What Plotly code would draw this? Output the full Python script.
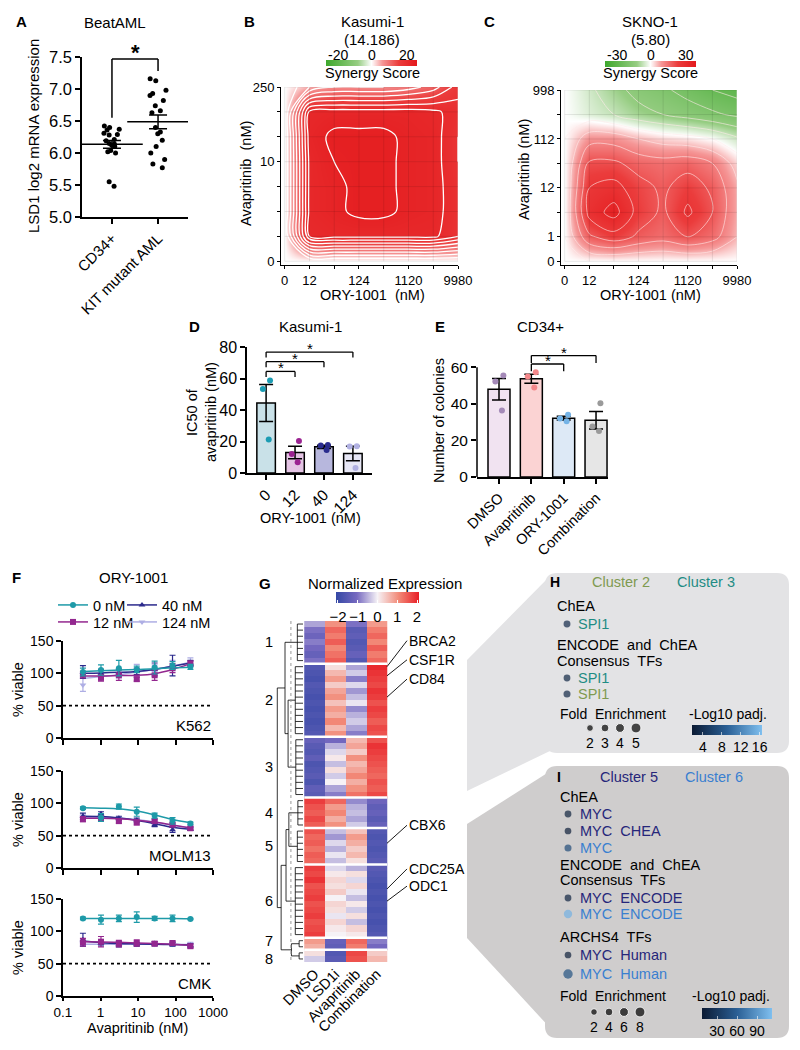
import numpy as np
import plotly.graph_objects as go

W, H = 800, 1050
FONT = 'Liberation Sans, Arial, sans-serif'

# ---------------- data ----------------
# A: BeatAML LSD1 expression
a_groups = ['CD34+', 'KIT mutant AML']
a_cd34 = [6.42, 6.40, 6.37, 6.36, 6.31, 6.29, 6.28, 6.21, 6.19, 6.15, 6.14, 6.12,
          6.10, 6.04, 6.02, 6.00, 5.55, 5.48]
a_kit = [7.16, 7.13, 6.98, 6.93, 6.90, 6.82, 6.74, 6.66, 6.63, 6.40, 6.33, 6.30,
         6.20, 6.10, 6.00, 5.90, 5.83, 5.77]

# B / C: synergy maps (rows = avapritinib dose low -> high, cols = ORY-1001 dose)
ory_labels = ['0', '12', '', '124', '', '1120', '', '9980']
b_avap_labels = ['0', '', '', '', '10', '', '', '250']
c_avap_labels = ['0', '1', '', '12', '', '112', '', '998']
b_synergy = [
    [0, 0, 0, 0, 0, 0, 0, 0],
    [0, 16, 16.5, 16.5, 16.5, 16.5, 16.5, 14],
    [0, 16.5, 17.5, 18.5, 18.5, 17.5, 17, 14.5],
    [0, 16.5, 17.5, 18.5, 18.5, 17.5, 17, 14.5],
    [0, 16.5, 18, 18.5, 18.5, 17.5, 17, 14],
    [0, 17, 18.5, 18.5, 18.5, 17.5, 17, 14],
    [0, 16.5, 17, 17, 17, 17, 16.5, 15],
    [0, 4, 6, 6, 6, 7, 9, 13],
]
c_synergy = [
    [0, 0, 0, 0, 0, 0, 0, 0],
    [0, 14, 18, 14, 12, 15, 12, 5],
    [0, 22, 27, 18, 14, 21, 15, 6],
    [0, 20, 22, 17, 14, 18, 14, 6],
    [0, 16, 16, 13, 12, 13, 10, 3],
    [0, 8, 8, 5, 3, 2, 0, -4],
    [0, -3, -5, -8, -10, -12, -14, -16],
    [0, -4, -8, -12, -14, -17, -20, -22],
]

# D: IC50 of avapritinib in Kasumi-1
d_doses = ['0', '12', '40', '124']
d_0nM = [58.8, 53.3, 21.2]
d_12nM = [20.3, 12.0, 6.8]
d_40nM = [17.8, 17.4, 14.6]
d_124nM = [17.0, 16.9, 3.2]

# E: CD34+ colonies
e_groups = ['DMSO', 'Avapritinib', 'ORY-1001', 'Combination']
e_dmso = [55.5, 52.2, 36.4]
e_avap = [57.3, 55.0, 49.0]
e_ory = [34.0, 32.0, 30.5]
e_combo = [40.4, 27.6, 25.1]

# F: viability curves
f_conc = [0.34, 1.03, 3.09, 9.26, 27.8, 83.3, 250]
f_series = ['0 nM', '12 nM', '40 nM', '124 nM']
k562_0 = [102, 105, 108, 106, 109, 112, 110]
k562_0_sem = [6, 8, 12, 5, 10, 6, 4]
k562_0_fit = [103, 104, 105, 106, 107, 108.5, 109.5]
k562_12 = [98, 93, 97, 91, 97, 108, 115]
k562_12_sem = [5, 5, 8, 3, 8, 7, 4]
k562_12_fit = [96, 96, 96.5, 97, 99.5, 106, 115]
k562_40 = [102, 100, 101, 103, 106, 112, 116]
k562_40_sem = [10, 6, 5, 5, 10, 16, 4]
k562_40_fit = [100, 100.5, 101.5, 103, 106, 111, 116]
k562_124 = [82, 95, 97, 104, 108, 112, 118]
k562_124_sem = [10, 5, 4, 10, 5, 8, 6]
k562_124_fit = [92, 95, 98, 102, 106, 111, 117]

molm13_0 = [92.5, 78, 95, 87, 81, 73, 69]
molm13_0_sem = [2, 6, 4, 7, 4, 5, 2]
molm13_0_fit = [93, 92.5, 91.5, 88, 82, 75, 70]
molm13_12 = [75.5, 77, 72.5, 70.5, 72.5, 67, 61.5]
molm13_12_sem = [4, 3, 3, 4, 3, 3, 2]
molm13_12_fit = [77, 77, 76, 74, 71, 66.5, 62]
molm13_40 = [80, 84, 77, 74, 67, 59, 60]
molm13_40_sem = [5, 3, 3, 3, 3, 4, 2]
molm13_40_fit = [80, 79.5, 77.5, 74, 68.5, 63, 60]
molm13_124 = [79, 79, 76, 72, 71, 66, 62]
molm13_124_sem = [3, 3, 3, 3, 3, 3, 2]
molm13_124_fit = [78, 78, 77, 75, 71, 66, 62]

cmk_0 = [120, 118, 120, 122, 120, 120, 119]
cmk_0_sem = [2, 7, 5, 8, 3, 5, 1]
cmk_0_fit = [120, 120, 120, 120, 120, 120, 119.5]
cmk_12 = [83, 84, 81, 82, 81, 82, 77]
cmk_12_sem = [6, 8, 5, 5, 3, 3, 3]
cmk_12_fit = [84, 83.5, 83, 82, 81, 80, 78]
cmk_40 = [87, 82, 80, 80, 81, 80, 78]
cmk_40_sem = [10, 3, 4, 3, 3, 3, 3]
cmk_40_fit = [85, 82.5, 81, 80.5, 80, 79.5, 79]
cmk_124 = [80, 80, 80, 80, 80, 80, 80]
cmk_124_sem = [3, 3, 3, 3, 3, 3, 3]
cmk_124_fit = [80, 80, 80, 80, 80, 80, 79.5]

# G: normalized expression heatmap (DMSO, LSD1i, Avapritinib, Combination)
g_conditions = ['DMSO', 'LSD1i', 'Avapritinib', 'Combination']
g_cluster_sizes = [7, 12, 10, 5, 6, 12, 2, 2]
g_expr = [
    # cluster 1
    [-0.6, 1.0, -1.0, 0.9], [-1.0, 1.4, -1.5, 1.2], [-1.2, 1.2, -1.4, 1.4],
    [-0.9, 1.5, -1.6, 1.1], [-1.1, 1.1, -1.5, 1.5], [-1.3, 1.3, -1.3, 1.2],
    [-1.0, 1.5, -1.6, 1.4],
    # cluster 2
    [-1.6, 0.2, -0.6, 2.0], [-1.7, 0.6, -0.3, 1.9], [-1.8, 0.9, -0.9, 1.8],
    [-1.6, 0.4, -0.2, 1.7], [-1.7, 0.8, -0.7, 1.9], [-1.8, 1.0, -0.4, 1.8],
    [-1.7, 0.5, -0.1, 1.6], [-1.8, 0.9, -0.8, 1.8], [-1.7, 0.7, -0.5, 1.7],
    [-1.8, 1.1, -0.3, 1.5], [-1.7, 0.6, -0.6, 1.7], [-1.6, 1.0, -0.9, 1.6],
    # cluster 3
    [-1.3, -1.1, 0.6, 1.6], [-1.5, -0.5, 0.8, 1.9], [-1.6, -0.2, 0.4, 1.8],
    [-1.4, 0.1, 1.0, 1.7], [-1.7, -0.4, 0.6, 1.6], [-1.6, 0.2, 0.8, 1.5],
    [-1.5, -0.3, 1.1, 1.4], [-1.7, 0.0, 0.7, 1.6], [-1.4, -0.6, 1.0, 1.5],
    [-1.5, -0.9, 1.3, 1.7],
    # cluster 4
    [1.8, 1.4, -0.8, -1.2], [1.6, 0.9, -0.5, -1.4], [1.5, 1.1, -0.4, -1.3],
    [1.7, 0.7, -0.6, -1.5], [1.5, 1.0, -0.3, -1.3],
    # cluster 5
    [1.6, -0.4, 0.5, -1.6], [1.4, -0.7, 0.9, -1.7], [1.5, -0.2, 0.7, -1.6],
    [1.3, -0.5, 0.4, -1.7], [1.5, -0.1, 0.6, -1.6], [1.4, -0.4, 0.2, -1.5],
    # cluster 6
    [1.8, -0.2, -0.5, -1.5], [1.7, 0.1, 0.2, -1.6], [1.9, 0.3, -0.2, -1.7],
    [1.6, 0.2, 0.3, -1.8], [1.7, 0.4, -0.1, -1.7], [1.8, 0.0, -0.4, -1.8],
    [1.6, 0.3, 0.1, -1.7], [1.7, 0.2, -0.3, -1.8], [1.8, -0.1, 0.2, -1.7],
    [1.6, 0.3, -0.4, -1.8], [1.7, 0.1, 0.3, -1.7], [1.8, 0.0, 0.1, -1.6],
    # cluster 7
    [0.9, -1.3, 1.4, -0.9], [0.7, -1.4, 1.2, -1.1],
    # cluster 8
    [0.2, -1.6, 1.7, 0.4], [-0.3, -1.5, 1.6, 0.6],
]
g_leaf_height = [0.22, 0.3, 0.28, 0.2, 0.22, 0.3, 0.15, 0.15]
g_merges = [(1, 2, 0.58), (0, 8, 0.70), (3, 4, 0.55), (10, 5, 0.66),
            (6, 7, 0.45), (11, 12, 0.85), (9, 13, 1.0)]
g_cut_height = 0.47
g_genes = ['BRCA2', 'CSF1R', 'CD84', 'CBX6', 'CDC25A', 'ODC1']
g_gene_rows = [7, 8.5, 12, 36, 43.5, 45.5]

# H / I: TF enrichment
h_terms = ['SPI1', 'SPI1', 'SPI1']
h_clusters = ['Cluster 3', 'Cluster 3', 'Cluster 2']
h_fold = [2.1, 2.0, 2.2]
h_log10padj = [3.4, 3.0, 3.2]
h_fold_legend = [2, 3, 4, 5]
i_terms = ['MYC', 'MYC CHEA', 'MYC', 'MYC ENCODE', 'MYC ENCODE', 'MYC Human', 'MYC Human']
i_clusters = ['Cluster 5', 'Cluster 5', 'Cluster 6', 'Cluster 5', 'Cluster 6', 'Cluster 5', 'Cluster 6']
i_fold = [2.2, 2.0, 2.6, 2.1, 5.0, 2.0, 7.0]
i_log10padj = [14, 12, 45, 15, 105, 12, 50]
i_fold_legend = [2, 4, 6, 8]

# ---------------- helpers ----------------
def xd(a, b):
    return [a / W, b / W]

def yd(top, bottom):
    return [1 - bottom / H, 1 - top / H]

def px(x):
    return x / W

def py(y):
    return 1 - y / H

def sem(v):
    return float(np.std(v, ddof=1) / np.sqrt(len(v)))

def tf(size):
    return dict(size=size, color='black', family=FONT)

def ax(**kw):
    base = dict(showline=True, linecolor='black', linewidth=1.5, ticks='outside', ticklen=5,
                tickwidth=1.5, tickcolor='black', showgrid=False, zeroline=False, automargin=False,
                tickfont=tf(14))
    base.update(kw)
    return base

def txt(x, y, s, size=14, color='black', bold=False, anchor='center', angle=0):
    return dict(x=px(x), y=py(y), xref='paper', yref='paper', showarrow=False,
                text=f'<b>{s}</b>' if bold else s, textangle=angle,
                font=dict(size=size, color=color, family=FONT),
                xanchor=anchor, yanchor='middle')

def P(x, y):
    return f'{x / W:.5f},{1 - y / H:.5f}'

def rounded(x0, y0, x1, y1, r):
    return (f'M{P(x0 + r, y0)} L{P(x1 - r, y0)} Q{P(x1, y0)} {P(x1, y0 + r)} '
            f'L{P(x1, y1 - r)} Q{P(x1, y1)} {P(x1 - r, y1)} L{P(x0 + r, y1)} '
            f'Q{P(x0, y1)} {P(x0, y1 - r)} L{P(x0, y0 + r)} Q{P(x0, y0)} {P(x0 + r, y0)} Z')

off = dict(showlegend=False, hoverinfo='skip')
fig = go.Figure()
ann = []
shapes = []

# ---------------- A ----------------
for grp, vals in zip(a_groups, [a_cd34, a_kit]):
    fig.add_trace(go.Box(x=[grp] * len(vals), y=vals, boxpoints='all', jitter=0.9, pointpos=0,
                         width=0.45, marker=dict(color='black', size=5),
                         line=dict(color='rgba(0,0,0,0)', width=0), fillcolor='rgba(0,0,0,0)',
                         xaxis='x', yaxis='y', **off))
a_sets = [a_cd34, a_kit]
fig.add_trace(go.Scatter(x=a_groups, y=[np.mean(v) for v in a_sets], mode='markers',
                         marker=dict(symbol='line-ew', size=44, line=dict(width=1.5, color='black')),
                         error_y=dict(type='data', array=[sem(v) for v in a_sets], color='black',
                                      thickness=1.5, width=9),
                         xaxis='x', yaxis='y', **off))
for (x0, y0, x1, y1) in [(0, 6.55, 0, 7.47), (0, 7.47, 1, 7.47), (1, 7.47, 1, 7.28)]:
    shapes.append(dict(type='line', xref='x', yref='y', x0=x0, y0=y0, x1=x1, y1=y1,
                       line=dict(color='black', width=1.5)))
ann.append(dict(x=0.5, y=7.47, xref='x', yref='y', text='<b>*</b>', showarrow=False,
                font=dict(size=22, family=FONT), yanchor='bottom', yshift=-8))

# ---------------- B / C ----------------
syn_scale = [[0, 'rgb(62,168,45)'], [0.35, 'rgb(150,205,130)'], [0.5, 'rgb(255,255,255)'],
             [0.62, 'rgb(245,150,150)'], [0.8, 'rgb(235,60,60)'], [1, 'rgb(228,25,28)']]
idx8 = list(range(8))
fig.add_trace(go.Contour(z=b_synergy, x=idx8, y=idx8, coloraxis='coloraxis',
                         contours=dict(coloring='heatmap', start=2, end=18, size=2),
                         line=dict(color='white', width=1.3, smoothing=1.0),
                         xaxis='x2', yaxis='y2', **off))
fig.add_trace(go.Contour(z=c_synergy, x=idx8, y=idx8, coloraxis='coloraxis2',
                         contours=dict(coloring='heatmap', start=-20, end=25, size=5),
                         line=dict(color='rgba(255,235,235,0.75)', width=0.8, smoothing=1.0),
                         xaxis='x3', yaxis='y3', **off))
for xa, ya in [('x2', 'y2'), ('x3', 'y3')]:
    for i in idx8:
        shapes.append(dict(type='line', xref=xa, yref=ya, x0=i, x1=i, y0=0, y1=7, layer='above',
                           line=dict(color='rgba(0,0,0,0.09)', width=1)))
        shapes.append(dict(type='line', xref=xa, yref=ya, x0=0, x1=7, y0=i, y1=i, layer='above',
                           line=dict(color='rgba(0,0,0,0.09)', width=1)))

# ---------------- D ----------------
d_sets = [d_0nM, d_12nM, d_40nM, d_124nM]
d_fill = ['#c9e1e8', '#e4c4e4', '#b7b7dd', '#e7e7f6']
d_dot = ['#1b9cb3', '#9b2391', '#2a2c8e', '#b1b1e2']
fig.add_trace(go.Bar(x=d_doses, y=[np.mean(v) for v in d_sets], width=0.64,
                     marker=dict(color=d_fill, line=dict(color='black', width=1.5)),
                     error_y=dict(type='data', array=[sem(v) for v in d_sets], color='black',
                                  thickness=1.5, width=7),
                     xaxis='x4', yaxis='y4', **off))
for dose, vals, col in zip(d_doses, d_sets, d_dot):
    fig.add_trace(go.Box(x=[dose] * len(vals), y=vals, boxpoints='all', jitter=0.7, pointpos=0,
                         width=0.5, marker=dict(color=col, size=6),
                         line=dict(color='rgba(0,0,0,0)', width=0), fillcolor='rgba(0,0,0,0)',
                         xaxis='x4', yaxis='y4', **off))
for (i0, i1, yb) in [(0, 1, 64.5), (0, 2, 70.7), (0, 3, 76.8)]:
    for (x0, y0, x1, y1) in [(i0, yb - 3.5, i0, yb), (i0, yb, i1, yb), (i1, yb, i1, yb - 3.5)]:
        shapes.append(dict(type='line', xref='x4', yref='y4', x0=x0, y0=y0, x1=x1, y1=y1,
                           line=dict(color='black', width=1.3)))
    ann.append(dict(x=(i0 + i1) / 2, y=yb, xref='x4', yref='y4', text='*', showarrow=False,
                    font=dict(size=15, family=FONT), yanchor='bottom', yshift=-7))

# ---------------- E ----------------
e_sets = [e_dmso, e_avap, e_ory, e_combo]
e_fill = ['#f1e3f1', '#fbd3d3', '#dde9f6', '#e6e6e6']
e_dot = ['#a48ab8', '#f3878a', '#74b3e6', '#9a9a9a']
fig.add_trace(go.Bar(x=e_groups, y=[np.mean(v) for v in e_sets], width=0.68,
                     marker=dict(color=e_fill, line=dict(color='black', width=1.5)),
                     error_y=dict(type='data', array=[sem(v) for v in e_sets], color='black',
                                  thickness=1.5, width=7),
                     xaxis='x5', yaxis='y5', **off))
for grp, vals, col in zip(e_groups, e_sets, e_dot):
    fig.add_trace(go.Box(x=[grp] * len(vals), y=vals, boxpoints='all', jitter=0.7, pointpos=0,
                         width=0.5, marker=dict(color=col, size=6),
                         line=dict(color='rgba(0,0,0,0)', width=0), fillcolor='rgba(0,0,0,0)',
                         xaxis='x5', yaxis='y5', **off))
shapes.append(dict(type='line', xref='x5 domain', yref='y5', x0=0, x1=0, y0=0, y1=60,
                   line=dict(color='black', width=1.5)))
for (i0, i1, yb) in [(1, 2, 61.8), (1, 3, 66.4)]:
    for (x0, y0, x1, y1) in [(i0, yb - 4, i0, yb), (i0, yb, i1, yb), (i1, yb, i1, yb - 4)]:
        shapes.append(dict(type='line', xref='x5', yref='y5', x0=x0, y0=y0, x1=x1, y1=y1,
                           line=dict(color='black', width=1.3)))
    ann.append(dict(x=(i0 + i1) / 2, y=yb, xref='x5', yref='y5', text='*', showarrow=False,
                    font=dict(size=15, family=FONT), yanchor='bottom', yshift=-7))

# ---------------- F ----------------
f_colors = ['#1e9aa8', '#93278f', '#2b2a8c', '#aeaee4']
f_symbols = ['circle', 'square', 'triangle-up', 'triangle-down']
f_panels = [
    ('x6', 'y6', 'K562', [k562_0, k562_12, k562_40, k562_124],
     [k562_0_sem, k562_12_sem, k562_40_sem, k562_124_sem],
     [k562_0_fit, k562_12_fit, k562_40_fit, k562_124_fit]),
    ('x7', 'y7', 'MOLM13', [molm13_0, molm13_12, molm13_40, molm13_124],
     [molm13_0_sem, molm13_12_sem, molm13_40_sem, molm13_124_sem],
     [molm13_0_fit, molm13_12_fit, molm13_40_fit, molm13_124_fit]),
    ('x8', 'y8', 'CMK', [cmk_0, cmk_12, cmk_40, cmk_124],
     [cmk_0_sem, cmk_12_sem, cmk_40_sem, cmk_124_sem],
     [cmk_0_fit, cmk_12_fit, cmk_40_fit, cmk_124_fit]),
]
for xa, ya, name, pts, errs, fits in f_panels:
    for k in [3, 2, 1, 0]:
        fig.add_trace(go.Scatter(x=f_conc, y=fits[k], mode='lines',
                                 line=dict(color=f_colors[k], width=1.5, shape='spline'),
                                 xaxis=xa, yaxis=ya, **off))
        fig.add_trace(go.Scatter(x=f_conc, y=pts[k], mode='markers',
                                 marker=dict(symbol=f_symbols[k], size=6, color=f_colors[k]),
                                 error_y=dict(type='data', array=errs[k], color=f_colors[k],
                                              thickness=1.2, width=3),
                                 xaxis=xa, yaxis=ya, **off))
    shapes.append(dict(type='line', xref=f'{xa} domain', yref=ya, x0=0, x1=1, y0=50, y1=50,
                       line=dict(color='black', width=1.6, dash='dot')))
    ann.append(dict(x=1, y=0.13, xref=f'{xa} domain', yref=f'{ya} domain', text=name,
                    showarrow=False, xanchor='right', yanchor='middle',
                    font=dict(size=15, family=FONT)))
# one legend per entry, laid out 2 x 2 like the original key
f_legend_ids = ['legend', 'legend3', 'legend2', 'legend4']
for k in range(4):
    fig.add_trace(go.Scatter(x=[None], y=[None], mode='lines+markers', name=f_series[k],
                             marker=dict(symbol=f_symbols[k], size=6, color=f_colors[k]),
                             line=dict(color=f_colors[k], width=1.5),
                             legend=f_legend_ids[k], xaxis='x6', yaxis='y6', showlegend=True))

# ---------------- G ----------------
n_rows = len(g_expr)
fig.add_trace(go.Heatmap(z=g_expr, x=g_conditions, y=list(range(n_rows)), coloraxis='coloraxis3',
                         xaxis='x9', yaxis='y9', **off))
starts = np.cumsum([0] + g_cluster_sizes[:-1])
bounds = np.cumsum(g_cluster_sizes)[:-1]
for b in bounds:
    shapes.append(dict(type='line', xref='x9', yref='y9', x0=-0.5, x1=3.5, y0=b - 0.5, y1=b - 0.5,
                       line=dict(color='white', width=2.5), layer='above'))

dx, dy = [], []
node_y, node_h = {}, {}
for k, (s, n) in enumerate(zip(starts, g_cluster_sizes)):
    rows = list(range(int(s), int(s + n)))
    h = g_leaf_height[k]
    for r in rows:
        dx += [0, h, None]
        dy += [r, r, None]
    dx += [h, h, None]
    dy += [rows[0], rows[-1], None]
    node_y[k] = float(np.mean(rows))
    node_h[k] = h
for j, (a, b, h) in enumerate(g_merges):
    nid = len(g_cluster_sizes) + j
    dx += [node_h[a], h, h, node_h[b], None]
    dy += [node_y[a], node_y[a], node_y[b], node_y[b], None]
    node_y[nid] = (node_y[a] + node_y[b]) / 2
    node_h[nid] = h
fig.add_trace(go.Scatter(x=dx, y=dy, mode='lines', line=dict(color='black', width=0.8),
                         xaxis='x10', yaxis='y10', **off))
fig.add_trace(go.Scatter(x=[g_cut_height, g_cut_height], y=[-0.5, n_rows - 0.5], mode='lines',
                         line=dict(color='#999999', width=1, dash='dot'),
                         xaxis='x10', yaxis='y10', **off))
label_shift = [0, 0, 0, 0, 0, 0, 3, -3]
for k, (s, n) in enumerate(zip(starts, g_cluster_sizes)):
    ann.append(dict(x=px(263), y=s + (n - 1) / 2, xref='paper', yref='y9', text=str(k + 1),
                    showarrow=False, yshift=label_shift[k], font=dict(size=14.5, family=FONT)))
gene_dy = [-26, -16, -18, -18, -20, -15]
for gene, row, ddy in zip(g_genes, g_gene_rows, gene_dy):
    ann.append(dict(x=3.5, y=row, xref='x9', yref='y9', text=gene, showarrow=True, arrowhead=0,
                    arrowwidth=0.9, arrowcolor='black', ax=20, ay=ddy, xanchor='left',
                    yanchor='middle', standoff=0, font=dict(size=14, family=FONT)))

# ---------------- H / I ----------------
shapes.append(dict(type='path', xref='paper', yref='paper', layer='below', line=dict(width=0),
                   fillcolor='#e3e3e5', path=f'M{P(467, 660)} L{P(552, 574)} L{P(552, 750)} L{P(467, 791)} Z'))
shapes.append(dict(type='path', xref='paper', yref='paper', layer='below', line=dict(width=0),
                   fillcolor='#cfcdcd', path=f'M{P(467, 824)} L{P(552, 770)} L{P(552, 1030)} L{P(467, 938)} Z'))
shapes.append(dict(type='path', xref='paper', yref='paper', layer='below', line=dict(width=0),
                   fillcolor='#e3e3e5', path=rounded(545, 573, 789, 753, 12)))
shapes.append(dict(type='path', xref='paper', yref='paper', layer='below', line=dict(width=0),
                   fillcolor='#cfcdcd', path=rounded(545, 766, 789, 1038, 12)))

clus_col = {'Cluster 2': '#7f9a50', 'Cluster 3': '#1f8c84',
            'Cluster 5': '#26267a', 'Cluster 6': '#3a7fd0'}
h_rows_y = [624, 678, 694]
i_rows_y = [814, 831, 848, 898, 914, 955, 974]
fig.add_trace(go.Scatter(x=[567] * len(h_terms), y=h_rows_y, mode='markers',
                         marker=dict(size=[4.7 + 1.05 * f for f in h_fold], color=h_log10padj,
                                     coloraxis='coloraxis4', line=dict(width=0)),
                         xaxis='x11', yaxis='y11', **off))
fig.add_trace(go.Scatter(x=[590, 605, 620, 636], y=[728] * 4, mode='markers',
                         marker=dict(size=[4.7 + 1.05 * f for f in h_fold_legend], color='black'),
                         xaxis='x11', yaxis='y11', **off))
fig.add_trace(go.Scatter(x=[568] * len(i_terms), y=i_rows_y, mode='markers',
                         marker=dict(size=[5.6 + 0.55 * f for f in i_fold], color=i_log10padj,
                                     coloraxis='coloraxis5', line=dict(width=0)),
                         xaxis='x11', yaxis='y11', **off))
fig.add_trace(go.Scatter(x=[594, 609, 624, 640], y=[1012] * 4, mode='markers',
                         marker=dict(size=[5.6 + 0.55 * f for f in i_fold_legend], color='black'),
                         xaxis='x11', yaxis='y11', **off))

for term, cl, y in zip(h_terms, h_clusters, h_rows_y):
    ann.append(txt(576, y, term, 14.5, clus_col[cl], anchor='left'))
for term, cl, y in zip(i_terms, i_clusters, i_rows_y):
    ann.append(txt(578, y, term.replace(' ', '\u00a0 '), 14.5, clus_col[cl], anchor='left'))
for f, x in zip(h_fold_legend, [590, 605, 620, 636]):
    ann.append(txt(x, 743, str(f), 14))
for f, x in zip(i_fold_legend, [594, 609, 624, 640]):
    ann.append(txt(x, 1027, str(f), 14))

sp = '\u00a0 '
ann += [
    txt(548, 582, 'H', 14, bold=True, anchor='left'),
    txt(590, 582, 'Cluster 2', 14.5, clus_col['Cluster 2'], anchor='left'),
    txt(675, 582, 'Cluster 3', 14.5, clus_col['Cluster 3'], anchor='left'),
    txt(555, 606, 'ChEA', 14.5, anchor='left'),
    txt(555, 645, f'ENCODE{sp}and{sp}ChEA', 14.5, anchor='left'),
    txt(555, 661, f'Consensus{sp}TFs', 14.5, anchor='left'),
    txt(558, 714, f'Fold{sp}Enrichment', 14, anchor='left'),
    txt(687, 714, '-Log10 padj.', 14, anchor='left'),
    txt(555, 777, 'I', 14, bold=True, anchor='left'),
    txt(598, 777, 'Cluster 5', 14.5, clus_col['Cluster 5'], anchor='left'),
    txt(683, 777, 'Cluster 6', 14.5, clus_col['Cluster 6'], anchor='left'),
    txt(558, 797, 'ChEA', 14.5, anchor='left'),
    txt(558, 865, f'ENCODE{sp}and{sp}ChEA', 14.5, anchor='left'),
    txt(558, 880, f'Consensus{sp}TFs', 14.5, anchor='left'),
    txt(558, 937, f'ARCHS4{sp}TFs', 14.5, anchor='left'),
    txt(558, 996, f'Fold{sp}Enrichment', 14, anchor='left'),
    txt(690, 996, '-Log10 padj.', 14, anchor='left'),
]

# ---------------- titles / labels ----------------
ann += [
    txt(14, 22, 'A', 15, bold=True, anchor='left'),
    txt(115, 23, 'BeatAML', 15),
    txt(34, 136, 'LSD1 log2 mRNA expression', 15, angle=-90),
    txt(242, 22, 'B', 15, bold=True, anchor='left'),
    txt(372, 22, 'Kasumi-1', 15),
    txt(372, 39, '(14.186)', 15),
    txt(326, 55, '-20', 14, anchor='left'),
    txt(371.5, 55, '0', 14),
    txt(417, 55, '20', 14, anchor='right'),
    txt(372, 73, 'Synergy Score', 14.5),
    txt(246, 174, f'Avapritinib{sp}(nM)', 14.5, angle=-90),
    txt(372, 295, f'ORY-1001{sp}(nM)', 14.5),
    txt(482, 22, 'C', 15, bold=True, anchor='left'),
    txt(650, 22, 'SKNO-1', 15),
    txt(650, 39, '(5.80)', 15),
    txt(605, 55, '-30', 14, anchor='left'),
    txt(650.5, 55, '0', 14),
    txt(696, 55, '30', 14, anchor='right'),
    txt(650, 73, 'Synergy Score', 14.5),
    txt(524, 170, 'Avapritinib (nM)', 14.5, angle=-90),
    txt(650, 295, 'ORY-1001 (nM)', 14.5),
    txt(187, 327, 'D', 15, bold=True, anchor='left'),
    txt(310, 327, 'Kasumi-1', 15),
    txt(192, 412, 'IC50 of', 14.5, angle=-90),
    txt(211, 412, 'avapritinib (nM)', 14.5, angle=-90),
    txt(310, 518, 'ORY-1001 (nM)', 14.5),
    txt(433, 327, 'E', 15, bold=True, anchor='left'),
    txt(540, 327, 'CD34+', 15),
    txt(439, 420, 'Number of colonies', 14.5, angle=-90),
    txt(10, 577, 'F', 15, bold=True, anchor='left'),
    txt(133, 577, 'ORY-1001', 15),
    txt(18, 690, '% viable', 14.5, angle=-90),
    txt(18, 820, '% viable', 14.5, angle=-90),
    txt(18, 948, '% viable', 14.5, angle=-90),
    txt(137, 1028, 'Avapritinib (nM)', 14.5),
    txt(257, 583, 'G', 15, bold=True, anchor='left'),
    txt(385, 583, 'Normalized Expression', 15),
]

# ---------------- layout ----------------
small = dict(linewidth=1, ticklen=3, tickwidth=1, tickfont=tf(13))
hid = dict(visible=False, showgrid=False, zeroline=False, automargin=False)
leg = dict(xanchor='left', yanchor='top', orientation='h', itemwidth=30,
           font=dict(size=14.5, family=FONT), bgcolor='rgba(0,0,0,0)', tracegroupgap=0)
layout = dict(
    width=W, height=H, margin=dict(l=0, r=0, t=0, b=0, pad=0, autoexpand=False),
    paper_bgcolor='white', plot_bgcolor='rgba(0,0,0,0)',
    font=dict(family=FONT, color='black', size=14),
    showlegend=True,
    xaxis=ax(domain=xd(82, 188), anchor='y', type='category', categoryarray=a_groups,
             range=[-0.65, 1.65], tickangle=-45, tickfont=tf(15)),
    yaxis=ax(domain=yd(57, 217), anchor='x', range=[5.0, 7.5], dtick=0.5, tickformat='.1f',
             tickfont=tf(16.5)),
    xaxis2=ax(domain=xd(281, 458), anchor='y2', range=[-0.15, 7], tickvals=idx8,
              ticktext=ory_labels, **small),
    yaxis2=ax(domain=yd(87, 265), anchor='x2', range=[-0.15, 7], tickvals=idx8,
              ticktext=b_avap_labels, **small),
    xaxis3=ax(domain=xd(561, 737), anchor='y3', range=[-0.15, 7], tickvals=idx8,
              ticktext=ory_labels, **small),
    yaxis3=ax(domain=yd(90, 265), anchor='x3', range=[-0.15, 7], tickvals=idx8,
              ticktext=c_avap_labels, **small),
    xaxis4=ax(domain=xd(247, 372), anchor='y4', type='category', categoryarray=d_doses,
              range=[-0.66, 3.66], tickangle=-45, tickfont=tf(15.5)),
    yaxis4=ax(domain=yd(347, 473), anchor='x4', range=[0, 80], dtick=20, tickfont=tf(16)),
    xaxis5=ax(domain=xd(477, 608), anchor='y5', type='category', categoryarray=e_groups,
              range=[-0.68, 3.37], tickangle=-45, tickfont=tf(14.5)),
    yaxis5=ax(domain=yd(349, 477), anchor='x5', range=[0, 70], tickvals=[0, 20, 40, 60],
              showline=False, tickfont=tf(15.5)),
    xaxis6=ax(domain=xd(63, 213), anchor='y6', type='log', range=[-1, 3],
              tickvals=[0.1, 1, 10, 100, 1000], showticklabels=False),
    yaxis6=ax(domain=yd(641, 738), anchor='x6', range=[0, 150], dtick=50),
    xaxis7=ax(domain=xd(63, 213), anchor='y7', type='log', range=[-1, 3],
              tickvals=[0.1, 1, 10, 100, 1000], showticklabels=False),
    yaxis7=ax(domain=yd(771, 868), anchor='x7', range=[0, 150], dtick=50),
    xaxis8=ax(domain=xd(63, 213), anchor='y8', type='log', range=[-1, 3], ticklen=3,
              tickvals=[0.1, 1, 10, 100, 1000], ticktext=['0.1', '1', '10', '100', '1000'],
              tickfont=tf(13.5)),
    yaxis8=ax(domain=yd(899, 996), anchor='x8', range=[0, 150], dtick=50),
    xaxis9=dict(domain=xd(303, 467), anchor='y9', type='category', categoryarray=g_conditions,
                showline=False, ticks='', showgrid=False, zeroline=False, tickangle=-45,
                automargin=False, tickfont=tf(14.5)),
    yaxis9=dict(domain=yd(621, 962), anchor='x9', range=[n_rows - 0.5, -0.5], **hid),
    xaxis10=dict(domain=xd(276, 303), anchor='y10', range=[1.05, 0], **hid),
    yaxis10=dict(domain=yd(621, 962), anchor='x10', range=[n_rows - 0.5, -0.5], **hid),
    xaxis11=dict(domain=[0, 1], anchor='y11', range=[0, W], **hid),
    yaxis11=dict(domain=[0, 1], anchor='x11', range=[H, 0], **hid),
    coloraxis=dict(cmin=-20, cmax=20, colorscale=syn_scale,
                   colorbar=dict(orientation='h', x=px(326), xanchor='left', y=py(60), yanchor='top',
                                 len=91, lenmode='pixels', thickness=6, thicknessmode='pixels',
                                 showticklabels=False, ticks='', outlinewidth=0, xpad=0, ypad=0)),
    coloraxis2=dict(cmin=-30, cmax=30, colorscale=syn_scale,
                    colorbar=dict(orientation='h', x=px(605), xanchor='left', y=py(61), yanchor='top',
                                  len=91, lenmode='pixels', thickness=6, thicknessmode='pixels',
                                  showticklabels=False, ticks='', outlinewidth=0, xpad=0, ypad=0)),
    coloraxis3=dict(cmin=-2.1, cmax=2.1,
                    colorscale=[[0, 'rgb(52,72,165)'], [0.25, 'rgb(118,105,192)'],
                                [0.5, 'rgb(246,242,246)'], [0.75, 'rgb(242,140,122)'],
                                [1, 'rgb(232,30,38)']],
                    colorbar=dict(orientation='h', x=px(336), xanchor='left', y=py(592), yanchor='top',
                                  len=83, lenmode='pixels', thickness=11, thicknessmode='pixels',
                                  tickvals=[-2, -1, 0, 1, 2], ticks='inside', ticklen=3,
                                  tickcolor='white', outlinewidth=0, xpad=0, ypad=0,
                                  tickfont=tf(15))),
    coloraxis4=dict(cmin=1.7, cmax=16.5,
                    colorscale=[[0, '#0b1a33'], [0.5, '#2a5f95'], [1, '#7fbfef']],
                    colorbar=dict(orientation='h', x=px(692), xanchor='left', y=py(725), yanchor='top',
                                  len=70, lenmode='pixels', thickness=10, thicknessmode='pixels',
                                  tickvals=[4, 8, 12, 16], ticks='inside', ticklen=3,
                                  tickcolor='rgba(255,255,255,0.6)', outlinewidth=0, xpad=0, ypad=0,
                                  tickfont=tf(14))),
    coloraxis5=dict(cmin=7.5, cmax=112.5,
                    colorscale=[[0, '#0b1a33'], [0.5, '#2a5f95'], [1, '#7fbfef']],
                    colorbar=dict(orientation='h', x=px(702), xanchor='left', y=py(1008), yanchor='top',
                                  len=70, lenmode='pixels', thickness=11, thicknessmode='pixels',
                                  tickvals=[30, 60, 90], ticks='inside', ticklen=3,
                                  tickcolor='rgba(255,255,255,0.6)', outlinewidth=0, xpad=0, ypad=0,
                                  tickfont=tf(14))),
    legend=dict(x=px(53), y=py(589), **leg),
    legend2=dict(x=px(122), y=py(589), **leg),
    legend3=dict(x=px(53), y=py(606), **leg),
    legend4=dict(x=px(122), y=py(606), **leg),
    annotations=ann,
    shapes=shapes,
)
fig.update_layout(**layout)
fig.write_html('out.html', config={'displayModeBar': False},
               post_script="document.body.style.margin='0px';")
